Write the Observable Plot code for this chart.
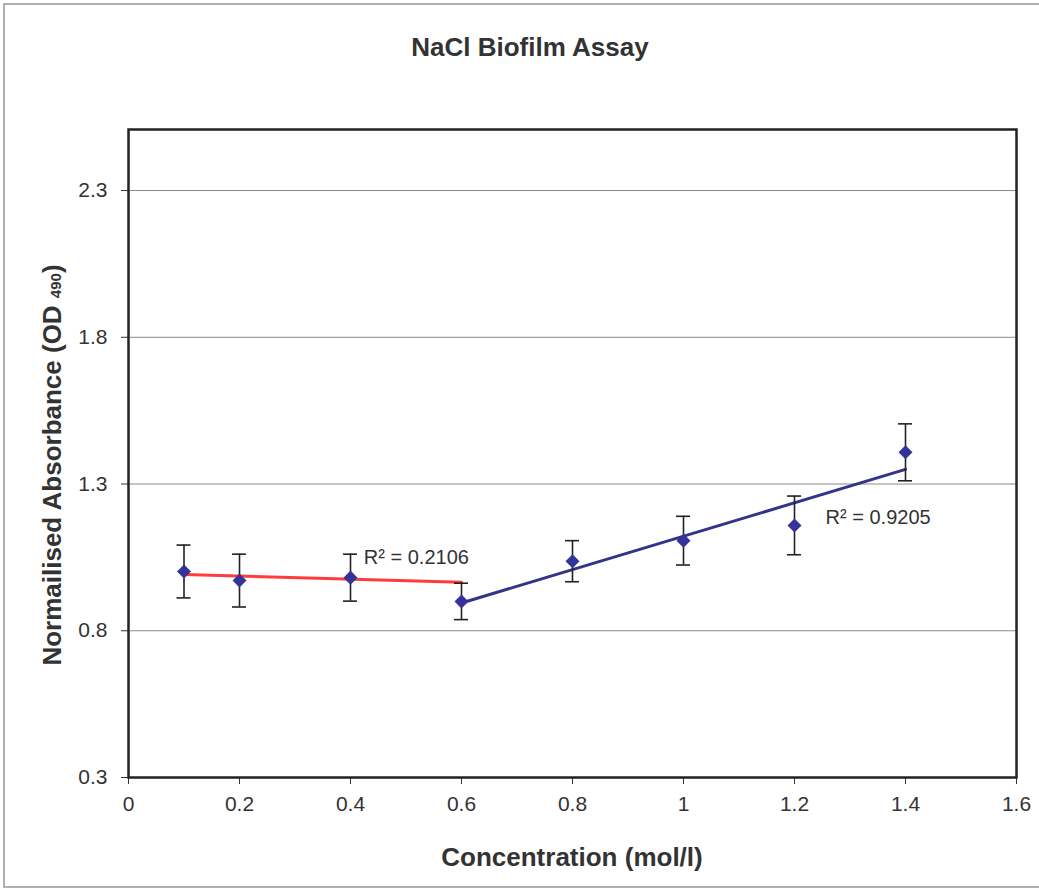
<!DOCTYPE html>
<html><head><meta charset="utf-8">
<script src="https://cdn.jsdelivr.net/npm/d3@7"></script>
<script src="https://cdn.jsdelivr.net/npm/@observablehq/plot@0.6"></script>
<style>
body{margin:0;background:#fff;}
#chart{position:relative;width:1039px;height:894px;overflow:hidden;font-family:"Liberation Sans",Arial,sans-serif;}
#border{position:absolute;left:3px;top:3px;width:1100px;height:885px;border:2px solid #b0b0b0;box-sizing:border-box;}
#title{position:absolute;top:32px;left:0;width:1060px;text-align:center;font-weight:bold;font-size:26px;color:#333;}
#chart svg{position:absolute;left:0;top:0;}
</style></head><body>
<div id="chart"><div id="border"></div><div id="title">NaCl Biofilm Assay</div></div>
<script>
// Data
const concentration = [0.1, 0.2, 0.4, 0.6, 0.8, 1.0, 1.2, 1.4];
const absorbance    = [1.002, 0.971, 0.981, 0.900, 1.037, 1.107, 1.159, 1.408];
const errorBar      = [0.090, 0.090, 0.080, 0.062, 0.070, 0.083, 0.100, 0.097];

// Trendline groups (indices of points used for the fit) and drawn x ranges
const lowFitIdx  = [0, 1, 2];
const lowRange   = [0.1, 0.6];
const highFitIdx = [3, 4, 5, 6, 7];
const highRange  = [0.6, 1.4];

const xTicks = [0, 0.2, 0.4, 0.6, 0.8, 1, 1.2, 1.4, 1.6];
const yTicks = [0.3, 0.8, 1.3, 1.8, 2.3];
const r2Labels = ["R\u00B2 = 0.2106", "R\u00B2 = 0.9205"];
const r2LabelX = [0.424, 1.256];
const r2LabelY = [1.05, 1.185];

const points = concentration.map((c, i) => ({x: c, y: absorbance[i], lo: absorbance[i] - errorBar[i], hi: absorbance[i] + errorBar[i]}));

function fit(idx, range) {
  const xs = idx.map(i => concentration[i]), ys = idx.map(i => absorbance[i]);
  const mx = d3.mean(xs), my = d3.mean(ys);
  const sxy = d3.sum(xs, (x, k) => (x - mx) * (ys[k] - my));
  const sxx = d3.sum(xs, x => (x - mx) ** 2);
  const b = sxy / sxx, a = my - b * mx;
  return range.map(x => ({x, y: a + b * x}));
}
const lowLine = fit(lowFitIdx, lowRange);
const highLine = fit(highFitIdx, highRange);
const labels = r2Labels.map((t, i) => ({t, x: r2LabelX[i], y: r2LabelY[i]}));

const squareDiamond = {
  draw(ctx, size) {
    const s = Math.sqrt(size / 2);
    ctx.moveTo(0, -s); ctx.lineTo(s, 0); ctx.lineTo(0, s); ctx.lineTo(-s, 0); ctx.closePath();
  }
};

const fmt = d3.format("~g");

const plot = Plot.plot({
  width: 1039,
  height: 894,
  marginLeft: 128,
  marginRight: 23,
  marginTop: 129,
  marginBottom: 117,
  style: {fontFamily: '"Liberation Sans", Arial, sans-serif', fontSize: "21px", color: "#333", background: "transparent"},
  x: {domain: [0, 1.6]},
  y: {domain: [0.3, 2.508]},
  marks: [
    Plot.ruleY(yTicks.slice(1), {stroke: "#8a8a8a", strokeWidth: 1}),
    Plot.axisX({ticks: xTicks, tickFormat: fmt, tickSize: 7, tickPadding: 12, fontSize: 21, label: null, stroke: "#333"}),
    Plot.axisY({ticks: yTicks, tickFormat: d3.format(".1f"), tickSize: 7, tickPadding: 14, fontSize: 21, label: null, stroke: "#333"}),
    Plot.line(lowLine, {x: "x", y: "y", stroke: "#ff3b3b", strokeWidth: 3}),
    Plot.line(highLine, {x: "x", y: "y", stroke: "#33338a", strokeWidth: 3}),
    Plot.ruleX(points, {x: "x", y1: "lo", y2: "hi", stroke: "#222", strokeWidth: 1.6}),
    Plot.ruleY(points, {y: "hi", x1: "x", x2: "x", insetLeft: -7, insetRight: -7, stroke: "#222", strokeWidth: 1.6}),
    Plot.ruleY(points, {y: "lo", x1: "x", x2: "x", insetLeft: -7, insetRight: -7, stroke: "#222", strokeWidth: 1.6}),
    Plot.dot(points, {x: "x", y: "y", symbol: squareDiamond, r: 5.6, fill: "#333399"}),
    Plot.text(labels, {x: "x", y: "y", text: "t", textAnchor: "start", fontSize: 20, fill: "#333"}),
    Plot.frame({stroke: "#222", strokeWidth: 2.5})
  ]
});

const svg = d3.select(plot);
const yl = svg.append("text")
  .attr("transform", "translate(61,465) rotate(-90)")
  .attr("text-anchor", "middle")
  .attr("font-weight", "bold").attr("font-size", 26).attr("fill", "#333");
yl.append("tspan").text("Normailised Absorbance (OD ");
yl.append("tspan").attr("font-size", 15).text("490");
yl.append("tspan").text(")");
svg.append("text")
  .attr("x", 572).attr("y", 866)
  .attr("text-anchor", "middle")
  .attr("font-weight", "bold").attr("font-size", 26).attr("fill", "#333")
  .text("Concentration (mol/l)");

document.getElementById("chart").appendChild(plot);
</script>
</body></html>
